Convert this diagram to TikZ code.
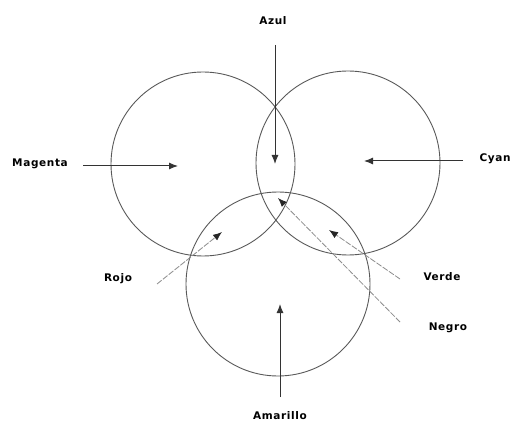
\documentclass[tikz,border=0pt]{standalone}
\usepackage{fontspec}
\setmainfont{DejaVu Sans}
\newfontfamily\lblfont[LetterSpace=6]{DejaVu Sans}
\usetikzlibrary{arrows.meta}
\tikzset{
  circ/.style={draw=black!65, line width=0.9pt},
  lbl/.style={font=\lblfont\bfseries\fontsize{10.5}{12}\selectfont, inner sep=1pt},
  arr/.style={draw=black!80, line width=1pt, -{Latex[length=9pt,width=7pt]}},
  garr/.style={draw=black!45, line width=0.8pt, -{Latex[length=9pt,width=7pt,color=black!85]}, dash pattern=on 6pt off 1.5pt},
}
\begin{document}
\begin{tikzpicture}[x=1pt,y=-1pt]
\useasboundingbox (0,0) rectangle (514,422);
% circles
\draw[circ] (203,164) circle (92);
\draw[circ] (348,163) circle (92);
\draw[circ] (278,284) circle (92);
% labels
\node[lbl] (azul) at (273,21) {Azul};
\node[lbl] (magenta) at (40,164) {Magenta};
\node[lbl] (cyan) at (495,159) {Cyan};
\node[lbl] (rojo) at (118,279) {Rojo};
\node[lbl] (verde) at (442,277) {Verde};
\node[lbl] (negro) at (448,328) {Negro};
\node[lbl] (amarillo) at (280,416) {Amarillo};
% arrow ends
\coordinate (azulS) at (275,45);
\coordinate (azulE) at (275,164);
\coordinate (magS) at (83,166);
\coordinate (magE) at (178,166);
\coordinate (cyanS) at (463,161);
\coordinate (cyanE) at (364,161);
\coordinate (rojoS) at (157,284);
\coordinate (rojoE) at (222,232);
\coordinate (verdeS) at (400,279);
\coordinate (verdeE) at (329,230);
\coordinate (negroS) at (400,322);
\coordinate (negroE) at (278,198);
\coordinate (amaS) at (280,397);
\coordinate (amaE) at (280,304);
% arrows
\draw[arr] (azulS) -- (azulE);
\draw[arr] (magS) -- (magE);
\draw[arr] (cyanS) -- (cyanE);
\draw[garr] (rojoS) -- (rojoE);
\draw[garr] (verdeS) -- (verdeE);
\draw[garr] (negroS) -- (negroE);
\draw[arr] (amaS) -- (amaE);
\end{tikzpicture}
\end{document}
